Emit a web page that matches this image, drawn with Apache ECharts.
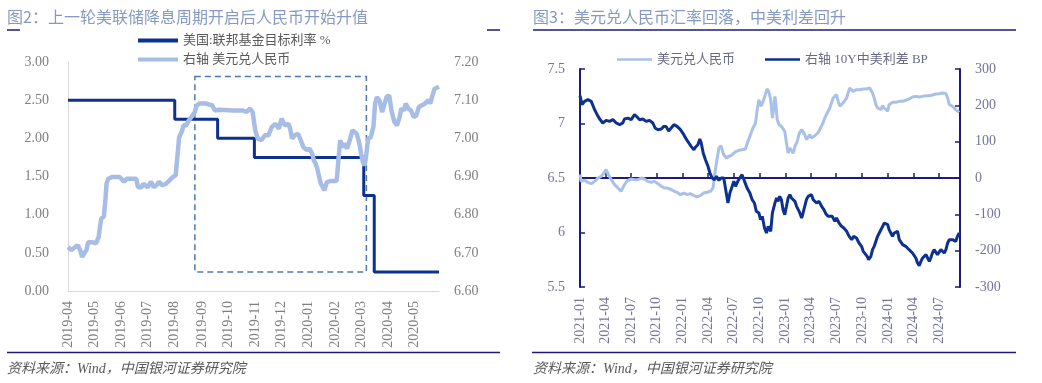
<!DOCTYPE html>
<html>
<head>
<meta charset="utf-8">
<script src="https://cdn.jsdelivr.net/npm/echarts@6/dist/echarts.min.js"></script>
<style>html,body{margin:0;padding:0;background:#fff}#c{width:1042px;height:383px}</style>
</head>
<body>
<div id="c"></div>
<script>
// ---------- data ----------
const fedRate = [['2019-04-01',2.5],['2019-08-01',2.25],['2019-09-19',2.0],['2019-10-31',1.75],['2020-03-04',1.25],['2020-03-16',0.25],['2020-05-29',0.25]];

const usdcny2019 = [['2019-04-01',6.715],['2019-04-05',6.707],['2019-04-09',6.715],['2019-04-12',6.720],['2019-04-15',6.707],['2019-04-17',6.689],['2019-04-22',6.707],['2019-04-24',6.728],['2019-04-28',6.728],['2019-05-03',6.725],['2019-05-06',6.741],['2019-05-07',6.759],['2019-05-09',6.790],['2019-05-12',6.795],['2019-05-14',6.846],['2019-05-15',6.881],['2019-05-17',6.894],['2019-05-22',6.899],['2019-05-30',6.899],['2019-06-04',6.886],['2019-06-07',6.894],['2019-06-12',6.894],['2019-06-18',6.894],['2019-06-20',6.872],['2019-06-24',6.872],['2019-06-26',6.881],['2019-07-01',6.872],['2019-07-05',6.886],['2019-07-08',6.872],['2019-07-11',6.877],['2019-07-14',6.886],['2019-07-16',6.886],['2019-07-18',6.877],['2019-07-22',6.881],['2019-07-26',6.890],['2019-07-30',6.899],['2019-08-02',6.903],['2019-08-04',6.951],['2019-08-06',7.003],['2019-08-09',7.017],['2019-08-11',7.034],['2019-08-14',7.034],['2019-08-16',7.043],['2019-08-20',7.056],['2019-08-24',7.069],['2019-08-26',7.086],['2019-08-29',7.091],['2019-09-06',7.091],['2019-09-13',7.086],['2019-09-16',7.073],['2019-09-18',7.078],['2019-09-21',7.075],['2019-10-07',7.073],['2019-10-18',7.073],['2019-10-22',7.069],['2019-10-26',7.078],['2019-10-29',7.069],['2019-11-01',7.021],['2019-11-04',6.999],['2019-11-08',6.995],['2019-11-12',7.008],['2019-11-16',7.008],['2019-11-20',7.030],['2019-11-24',7.038],['2019-11-28',7.025],['2019-12-01',7.052],['2019-12-05',7.034],['2019-12-09',7.038],['2019-12-11',7.025],['2019-12-13',6.999],['2019-12-16',7.008],['2019-12-20',7.012],['2019-12-23',6.995],['2019-12-26',6.977],['2019-12-30',6.969],['2020-01-02',6.973],['2020-01-05',6.960],['2020-01-07',6.942],['2020-01-09',6.934],['2020-01-11',6.920],['2020-01-13',6.899],['2020-01-15',6.881],['2020-01-17',6.886],['2020-01-19',6.864],['2020-01-22',6.886],['2020-01-26',6.888],['2020-02-02',6.888],['2020-02-04',6.942],['2020-02-06',6.995],['2020-02-09',6.977],['2020-02-11',6.986],['2020-02-14',6.973],['2020-02-17',6.995],['2020-02-20',7.021],['2020-02-22',7.021],['2020-02-25',7.012],['2020-02-28',6.986],['2020-03-01',6.960],['2020-03-03',6.938],['2020-03-05',6.929],['2020-03-07',6.960],['2020-03-09',6.999],['2020-03-12',7.003],['2020-03-15',7.030],['2020-03-17',7.091],['2020-03-19',7.108],['2020-03-22',7.100],['2020-03-25',7.069],['2020-03-27',7.073],['2020-03-30',7.108],['2020-04-02',7.113],['2020-04-05',7.069],['2020-04-08',7.043],['2020-04-11',7.034],['2020-04-14',7.056],['2020-04-16',7.078],['2020-04-19',7.073],['2020-04-21',7.091],['2020-04-24',7.078],['2020-04-27',7.073],['2020-04-30',7.056],['2020-05-03',7.060],['2020-05-06',7.082],['2020-05-09',7.086],['2020-05-13',7.091],['2020-05-17',7.100],['2020-05-19',7.091],['2020-05-21',7.108],['2020-05-24',7.130],['2020-05-29',7.135]];

const usdcny2021 = [['2021-01-01',6.531],['2021-01-05',6.469],['2021-01-17',6.479],['2021-01-29',6.460],['2021-02-10',6.448],['2021-02-22',6.469],['2021-03-06',6.500],['2021-03-17',6.515],['2021-03-27',6.546],['2021-04-04',6.576],['2021-04-12',6.531],['2021-04-22',6.485],['2021-05-04',6.439],['2021-05-16',6.408],['2021-05-27',6.378],['2021-06-08',6.439],['2021-06-20',6.479],['2021-07-02',6.491],['2021-07-14',6.485],['2021-07-26',6.485],['2021-08-07',6.500],['2021-08-18',6.491],['2021-08-30',6.469],['2021-09-11',6.460],['2021-09-23',6.469],['2021-10-05',6.448],['2021-10-17',6.424],['2021-10-28',6.408],['2021-11-09',6.408],['2021-11-21',6.393],['2021-12-03',6.378],['2021-12-12',6.369],['2021-12-24',6.347],
['2022-01-05',6.362],['2022-01-17',6.347],['2022-01-29',6.356],['2022-02-10',6.338],['2022-02-21',6.326],['2022-03-05',6.338],['2022-03-17',6.362],['2022-03-29',6.369],['2022-04-10',6.378],['2022-04-19',6.408],['2022-04-24',6.515],['2022-05-01',6.638],['2022-05-10',6.775],['2022-05-17',6.797],['2022-05-23',6.745],['2022-05-27',6.714],['2022-06-06',6.683],['2022-06-14',6.699],['2022-06-22',6.705],['2022-07-02',6.729],['2022-07-11',6.745],['2022-07-20',6.754],['2022-07-31',6.760],['2022-08-12',6.766],['2022-08-21',6.836],['2022-08-30',6.898],['2022-09-08',6.959],['2022-09-17',7.005],['2022-09-23',7.127],['2022-09-29',7.219],['2022-10-07',7.158],['2022-10-14',7.203],['2022-10-22',7.265],['2022-10-28',7.317],['2022-11-03',7.295],['2022-11-10',7.219],['2022-11-16',7.050],['2022-11-21',7.150],['2022-11-25',7.249],['2022-11-28',7.188],['2022-12-03',7.035],['2022-12-10',6.989],['2022-12-18',6.974],['2022-12-24',6.989],['2022-12-30',6.928],
['2023-01-05',6.821],['2023-01-11',6.729],['2023-01-17',6.775],['2023-01-23',6.760],['2023-01-29',6.729],['2023-02-04',6.791],['2023-02-10',6.821],['2023-02-14',6.852],['2023-02-20',6.913],['2023-02-28',6.944],['2023-03-05',6.959],['2023-03-11',6.898],['2023-03-17',6.852],['2023-03-23',6.867],['2023-03-29',6.898],['2023-04-04',6.867],['2023-04-10',6.858],['2023-04-16',6.888],['2023-04-22',6.882],['2023-04-27',6.913],['2023-05-03',6.944],['2023-05-10',6.959],['2023-05-15',7.005],['2023-05-21',7.050],['2023-05-27',7.081],['2023-06-02',7.112],['2023-06-08',7.142],['2023-06-14',7.188],['2023-06-20',7.234],['2023-06-26',7.249],['2023-07-02',7.265],['2023-07-08',7.203],['2023-07-14',7.158],['2023-07-20',7.142],['2023-07-25',7.188],['2023-07-31',7.203],['2023-08-07',7.234],['2023-08-12',7.280],['2023-08-18',7.326],['2023-08-25',7.310],['2023-08-30',7.295],['2023-09-05',7.310],['2023-09-11',7.310],['2023-09-17',7.295],['2023-09-23',7.310],['2023-10-05',7.317],['2023-10-16',7.317],['2023-10-28',7.326],['2023-11-01',7.317],['2023-11-07',7.280],['2023-11-13',7.234],['2023-11-19',7.173],['2023-11-25',7.142],['2023-12-01',7.158],['2023-12-07',7.127],['2023-12-13',7.164],['2023-12-19',7.142],['2023-12-25',7.127],['2023-12-31',7.112],
['2024-01-05',7.173],['2024-01-11',7.188],['2024-01-17',7.194],['2024-01-23',7.203],['2024-01-29',7.194],['2024-02-04',7.203],['2024-02-10',7.203],['2024-02-16',7.213],['2024-02-22',7.203],['2024-02-28',7.203],['2024-03-04',7.213],['2024-03-10',7.219],['2024-03-16',7.225],['2024-03-22',7.234],['2024-03-28',7.243],['2024-04-03',7.243],['2024-04-09',7.249],['2024-04-15',7.249],['2024-04-21',7.243],['2024-04-27',7.243],['2024-05-03',7.249],['2024-05-09',7.249],['2024-05-15',7.255],['2024-05-21',7.249],['2024-05-27',7.255],['2024-06-01',7.255],['2024-06-07',7.261],['2024-06-13',7.268],['2024-06-19',7.271],['2024-06-25',7.274],['2024-07-01',7.274],['2024-07-07',7.280],['2024-07-13',7.280],['2024-07-19',7.280],['2024-07-25',7.274],['2024-07-31',7.234],['2024-08-06',7.173],['2024-08-11',7.173],['2024-08-17',7.158],['2024-08-23',7.142],['2024-08-29',7.127],['2024-09-04',7.121],['2024-09-10',7.102]];

const spread10y = [['2021-01-01',226.6],['2021-01-08',201.8],['2021-01-17',211],['2021-01-29',215.6],['2021-02-10',211],['2021-02-16',206.4],['2021-02-22',188],['2021-03-03',174.3],['2021-03-12',162.4],['2021-03-23',151.4],['2021-04-04',158.7],['2021-04-16',156],['2021-04-28',160.5],['2021-05-10',151.4],['2021-05-22',146.8],['2021-06-02',151.4],['2021-06-08',162.4],['2021-06-20',164.8],['2021-07-02',160.5],['2021-07-14',174.3],['2021-07-23',167.9],['2021-08-01',160.5],['2021-08-12',162.4],['2021-08-24',156],['2021-09-05',158.7],['2021-09-17',151.4],['2021-09-25',137.6],['2021-10-05',133],['2021-10-17',134.8],['2021-10-26',142],['2021-11-03',142],['2021-11-12',129],['2021-11-21',137.6],['2021-12-01',146.8],['2021-12-12',142.2],['2021-12-24',133],
['2022-01-05',119.3],['2022-01-15',105.5],['2022-01-23',96.3],['2022-01-31',87.1],['2022-02-10',78],['2022-02-16',85.3],['2022-02-24',91.7],['2022-03-03',107.4],['2022-03-08',96.3],['2022-03-15',68.8],['2022-03-23',50.4],['2022-04-01',32.1],['2022-04-08',13.7],['2022-04-16',0],['2022-04-24',-4.6],['2022-05-01',4.6],['2022-05-10',-6.4],['2022-05-18',0],['2022-05-27',0],['2022-06-02',-27.5],['2022-06-11',-68.8],['2022-06-18',-41.3],['2022-06-26',-23],['2022-07-02',-9.2],['2022-07-08',-23],['2022-07-16',-9.2],['2022-07-23',0],['2022-07-31',9.2],['2022-08-09',-9.2],['2022-08-18',-27.5],['2022-08-28',-41.3],['2022-09-05',-59.6],['2022-09-13',-68.8],['2022-09-20',-91.7],['2022-09-29',-96.3],['2022-10-05',-114.7],['2022-10-11',-105.5],['2022-10-19',-137.6],['2022-10-26',-151.4],['2022-11-01',-133],['2022-11-10',-146.8],['2022-11-16',-96.3],['2022-11-22',-78],['2022-11-25',-68.8],['2022-12-01',-55],['2022-12-06',-64.2],['2022-12-12',-50.5],['2022-12-18',-59.6],['2022-12-24',-87.2],['2022-12-30',-100.9],
['2023-01-05',-78],['2023-01-11',-55],['2023-01-17',-45.9],['2023-01-23',-55],['2023-01-29',-50.5],['2023-02-04',-64.2],['2023-02-10',-78],['2023-02-19',-91.7],['2023-02-28',-110.1],['2023-03-05',-96.3],['2023-03-11',-78],['2023-03-17',-59.6],['2023-03-23',-50.5],['2023-03-29',-55],['2023-04-04',-45.9],['2023-04-10',-59.6],['2023-04-16',-55],['2023-04-22',-68.8],['2023-05-01',-64.2],['2023-05-10',-78],['2023-05-18',-87.2],['2023-05-25',-98.2],['2023-06-02',-105.5],['2023-06-08',-100.9],['2023-06-17',-105.5],['2023-06-26',-119.3],['2023-07-02',-110.1],['2023-07-11',-123.9],['2023-07-20',-133],['2023-07-28',-137.6],['2023-08-07',-146.8],['2023-08-16',-160.6],['2023-08-25',-169.7],['2023-09-01',-160.6],['2023-09-11',-165.1],['2023-09-20',-178.9],['2023-09-29',-188],['2023-10-05',-201.8],['2023-10-11',-206.4],['2023-10-19',-215.6],['2023-10-24',-224.8],['2023-11-01',-215.6],['2023-11-07',-197.3],['2023-11-13',-188],['2023-11-19',-174.3],['2023-11-25',-160.6],['2023-12-01',-151.4],['2023-12-07',-146.8],['2023-12-13',-133],['2023-12-19',-123.9],['2023-12-25',-123.9],['2023-12-31',-128.4],
['2024-01-05',-142.2],['2024-01-11',-151.4],['2024-01-17',-160.6],['2024-01-23',-151.4],['2024-01-29',-156],['2024-02-04',-146.8],['2024-02-10',-169.7],['2024-02-16',-174.3],['2024-02-22',-183.5],['2024-02-28',-183.5],['2024-03-04',-188],['2024-03-10',-192.7],['2024-03-16',-197.3],['2024-03-22',-201.8],['2024-03-28',-206.4],['2024-04-03',-211],['2024-04-09',-220.2],['2024-04-15',-234],['2024-04-21',-241.3],['2024-04-27',-229.4],['2024-05-03',-220.2],['2024-05-09',-215.6],['2024-05-15',-211],['2024-05-21',-220.2],['2024-05-27',-229.4],['2024-06-01',-220.2],['2024-06-07',-206.4],['2024-06-13',-197.3],['2024-06-19',-201.8],['2024-06-25',-211],['2024-07-01',-206.4],['2024-07-07',-197.3],['2024-07-13',-201.8],['2024-07-19',-206.4],['2024-07-25',-197.3],['2024-07-31',-178.9],['2024-08-06',-169.7],['2024-08-11',-165.1],['2024-08-17',-169.7],['2024-08-23',-165.1],['2024-08-29',-174.3],['2024-09-04',-160.6],['2024-09-10',-151.4]];

// dashed annotation box (data units)
const boxCorners = [['2019-08-24', 2.81], ['2020-03-07', 0.25]];

const titles = ['图2：上一轮美联储降息周期开启后人民币开始升值', '图3：美元兑人民币汇率回落，中美利差回升'];
const sourceText = '资料来源：Wind，中国银河证券研究院';
const legendLeft = ['美国:联邦基金目标利率 %', '右轴 美元兑人民币'];
const legendRight = ['美元兑人民币', '右轴 10Y中美利差 BP'];

// ---------- styles ----------
const DAY = 86400000;
const NAVY = '#1c1a7c';
const DARK = '#0c3190';
const LIGHT = '#a7bde6';
const SERIF = '"Liberation Serif", "Noto Sans CJK SC"';
const grayLbl = '#808080';
const purpLbl = '#75759a';

const chart = echarts.init(document.getElementById('c'), null, {renderer: 'canvas'});

const option = {
  animation: false,
  backgroundColor: '#fff',
  textStyle: {fontFamily: SERIF},
  grid: [
    {left: 68, top: 62, width: 371, height: 229},
    {left: 580, top: 69, width: 380, height: 218}
  ],
  legend: [
    {data: legendLeft, orient: 'vertical', left: 138, top: 34, padding: 0, itemWidth: 40, itemHeight: 4, itemGap: 6, icon: 'rect',
     textStyle: {fontSize: 13, color: '#595959', fontFamily: SERIF}},
    {data: legendRight, orient: 'horizontal', left: 617, top: 53, padding: 0, itemWidth: 35, itemHeight: 2.5, itemGap: 30, icon: 'rect',
     textStyle: {fontSize: 13, color: '#6a6a86', fontFamily: SERIF}}
  ],
  xAxis: [
    {type: 'time', gridIndex: 0, min: '2019-04-01', max: '2020-05-29', minInterval: 30 * DAY, maxInterval: 30 * DAY,
     axisLine: {lineStyle: {color: '#d9d9d9', width: 1}}, axisTick: {show: false}, splitLine: {show: false},
     axisLabel: {rotate: 90, formatter: '{yyyy}-{MM}', color: grayLbl, fontSize: 14, fontFamily: SERIF, margin: 10, showMaxLabel: false}},
    {type: 'time', gridIndex: 1, min: '2021-01-01', max: '2024-09-13', minInterval: 95 * DAY, maxInterval: 95 * DAY,
     axisLine: {lineStyle: {color: NAVY, width: 2}}, axisTick: {show: true, inside: true, length: 5, lineStyle: {color: NAVY, width: 1.5}},
     splitLine: {show: false},
     axisLabel: {rotate: 90, formatter: '{yyyy}-{MM}', color: purpLbl, fontSize: 14, fontFamily: SERIF, margin: 10, showMaxLabel: false}}
  ],
  yAxis: [
    {type: 'value', gridIndex: 0, position: 'left', min: 0, max: 3, interval: 0.5,
     axisLine: {show: true, lineStyle: {color: '#d9d9d9', width: 1}}, axisTick: {show: false}, splitLine: {show: false},
     axisLabel: {formatter: v => v.toFixed(2), color: grayLbl, fontSize: 14, fontFamily: SERIF, margin: 19}},
    {type: 'value', gridIndex: 0, position: 'right', min: 6.6, max: 7.2, interval: 0.1,
     axisLine: {show: false}, axisTick: {show: false}, splitLine: {show: false},
     axisLabel: {formatter: v => v.toFixed(2), color: grayLbl, fontSize: 14, fontFamily: SERIF, margin: 15}},
    {type: 'value', gridIndex: 1, position: 'left', min: 5.5, max: 7.5, interval: 0.5,
     axisLine: {show: true, lineStyle: {color: NAVY, width: 2}}, axisTick: {show: true, inside: true, length: 5, lineStyle: {color: NAVY, width: 1.5}},
     splitLine: {show: false},
     axisLabel: {color: purpLbl, fontSize: 14, fontFamily: SERIF, margin: 15}},
    {type: 'value', gridIndex: 1, position: 'right', min: -300, max: 300, interval: 100,
     axisLine: {show: true, lineStyle: {color: NAVY, width: 2}}, axisTick: {show: true, inside: true, length: 5, lineStyle: {color: NAVY, width: 1.5}},
     splitLine: {show: false},
     axisLabel: {color: purpLbl, fontSize: 14, fontFamily: SERIF, margin: 15}}
  ],
  series: [
    {name: legendLeft[0], type: 'line', xAxisIndex: 0, yAxisIndex: 0, data: fedRate, step: 'end', showSymbol: false,
     color: DARK, lineStyle: {color: DARK, width: 3}, z: 2,
     markArea: {silent: true, itemStyle: {color: 'rgba(0,0,0,0)', borderColor: '#4c79b1', borderWidth: 1.5, borderType: [6, 4]},
       data: [[{xAxis: boxCorners[0][0], yAxis: boxCorners[0][1]}, {xAxis: boxCorners[1][0], yAxis: boxCorners[1][1]}]]}},
    {name: legendLeft[1], type: 'line', xAxisIndex: 0, yAxisIndex: 1, data: usdcny2019, showSymbol: false,
     color: LIGHT, lineStyle: {color: LIGHT, width: 4.5}, z: 3},
    {name: legendRight[0], type: 'line', xAxisIndex: 1, yAxisIndex: 2, data: usdcny2021, showSymbol: false,
     color: '#a9c1e9', lineStyle: {color: '#a9c1e9', width: 3}, z: 2},
    {name: legendRight[1], type: 'line', xAxisIndex: 1, yAxisIndex: 3, data: spread10y, showSymbol: false,
     color: DARK, lineStyle: {color: DARK, width: 3}, z: 3}
  ],
  graphic: [
    {type: 'text', x: 7, y: 17, style: {text: titles[0], fill: '#8699c4', font: '16px "Noto Sans CJK SC"', verticalAlign: 'middle'}},
    {type: 'text', x: 533, y: 17, style: {text: titles[1], fill: '#8699c4', font: '16px "Noto Sans CJK SC"', verticalAlign: 'middle'}},
    {type: 'line', shape: {x1: 7, y1: 30, x2: 20, y2: 30}, style: {stroke: NAVY, lineWidth: 1.5}},
    {type: 'line', shape: {x1: 487, y1: 30, x2: 500, y2: 30}, style: {stroke: NAVY, lineWidth: 1.5}},
    {type: 'line', shape: {x1: 533, y1: 30, x2: 1016, y2: 30}, style: {stroke: NAVY, lineWidth: 1.5}},
    {type: 'line', shape: {x1: 7, y1: 352.5, x2: 500, y2: 352.5}, style: {stroke: NAVY, lineWidth: 1.5}},
    {type: 'line', shape: {x1: 532, y1: 352.5, x2: 1016, y2: 352.5}, style: {stroke: NAVY, lineWidth: 1.5}},
    {type: 'text', x: 7, y: 369, style: {text: sourceText, fill: '#595959', font: 'italic 14px ' + SERIF, verticalAlign: 'middle'}},
    {type: 'text', x: 533, y: 369, style: {text: sourceText, fill: '#595959', font: 'italic 14px ' + SERIF, verticalAlign: 'middle'}}
  ]
};
chart.setOption(option);
</script>
</body>
</html>
